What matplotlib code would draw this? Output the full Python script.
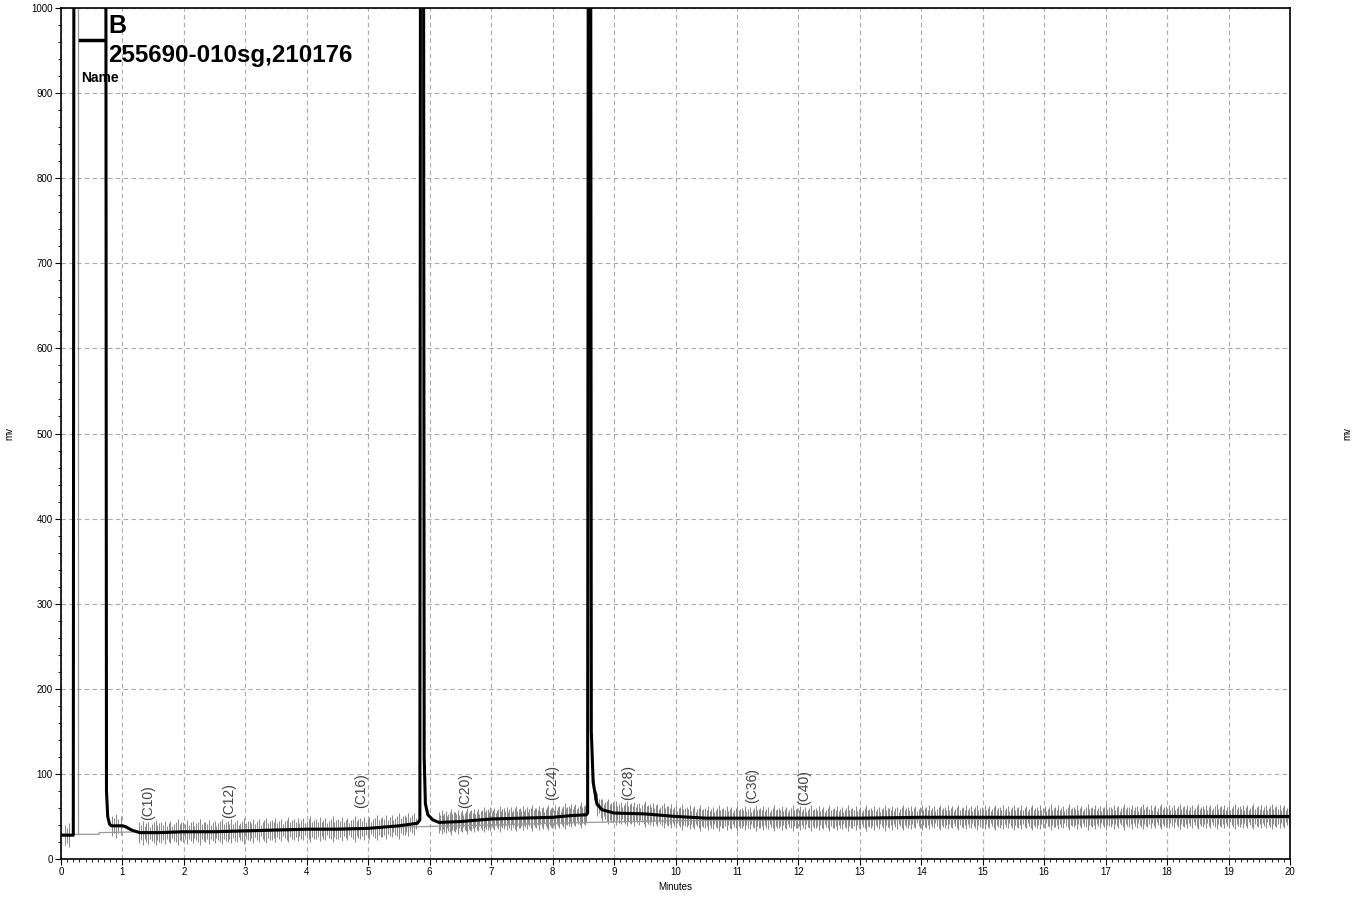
import matplotlib
matplotlib.use('Agg')
import matplotlib.pyplot as plt
import numpy as np
from matplotlib.ticker import MultipleLocator

plt.rcParams['font.family'] = ['Liberation Sans', 'DejaVu Sans']

# chromatogram trace (minutes, mV), values above 1000 are off scale
trace_t = [0, 0.2, 0.21, 0.73, 0.74, 0.76, 0.79, 0.82, 1.0, 1.05, 1.15, 1.28, 1.6, 2.0,
           2.5, 3.0, 3.5, 4.0, 4.5, 5.0, 5.5, 5.8, 5.84, 5.85, 5.9, 5.91, 5.93, 5.97,
           6.05, 6.15, 6.5, 7.0, 7.5, 8.0, 8.3, 8.55, 8.57, 8.58, 8.62, 8.63, 8.66,
           8.72, 8.8, 9.0, 9.5, 10.0, 10.5, 11.0, 12.0, 13.0, 14.0, 16.0, 18.0, 20.0]
trace_mv = [28, 28, 1100, 1100, 80, 50, 41, 39, 39, 38, 34, 31, 31, 32,
            32, 33, 34, 35, 35, 36, 39, 42, 46, 1100, 1100, 120, 65, 52,
            46, 43, 44, 47, 48, 49, 51, 52, 54, 1100, 1100, 150, 90,
            65, 58, 54, 53, 50, 48, 48, 48, 48, 49, 49, 50, 50]

# thin grey baseline and second channel
base_t = [0, 0.62, 0.62, 5.85, 8.6, 10.0, 20.0]
base_mv = [29, 29, 31, 38, 43, 45, 48]
aux_t = [0.27, 0.27]
aux_mv = [29, 1100]

# carbon range labels
peak_names = ['(C10)', '(C12)', '(C16)', '(C20)', '(C24)', '(C28)', '(C36)', '(C40)']
peak_t = [1.42, 2.73, 4.88, 6.57, 8.0, 9.23, 11.25, 12.09]
peak_lbl_mv = [46, 48, 60, 60, 69, 69, 66, 63]

# integration hash marks: (start, end, step)
hash_segs = [(0.07, 0.14, 0.03), (0.83, 1.0, 0.035), (1.27, 5.8, 0.03),
             (6.15, 8.55, 0.022), (8.68, 20.0, 0.025)]
hash_half = [12, 9, 14, 8, 11, 13, 7, 10, 12, 15, 9, 11]

fig = plt.figure(figsize=(13.6, 8.98), dpi=100)
ax = fig.add_axes([61 / 1360, 1 - 859 / 898, (1290 - 61) / 1360, (859 - 8) / 898])

ax.grid(True, which='major', color='#aaaaaa', linestyle=(0, (4, 3)), linewidth=0.8)
ax.set_axisbelow(True)

# hash marks
for s, e, st in hash_segs:
    xs = np.arange(s, e, st)
    cy = np.interp(xs, trace_t, trace_mv)
    hh = np.array([hash_half[i % len(hash_half)] for i in range(len(xs))])
    ax.vlines(xs, cy - hh, cy + hh, color='#8c8c8c', linewidth=0.75, zorder=2)

ax.plot(base_t, base_mv, color='#999999', linewidth=0.9, zorder=2)
ax.plot(aux_t, aux_mv, color='#999999', linewidth=0.9, zorder=2)
ax.plot(trace_t, trace_mv, color='black', linewidth=2.2, zorder=3)

for name, t, y in zip(peak_names, peak_t, peak_lbl_mv):
    ax.text(t, y, name, rotation=90, ha='center', va='bottom', fontsize=10,
            color='#444444', zorder=4)

ax.set_xlim(0, 20)
ax.set_ylim(0, 1000)
ax.xaxis.set_major_locator(MultipleLocator(1))
ax.xaxis.set_minor_locator(MultipleLocator(0.1))
ax.yaxis.set_major_locator(MultipleLocator(100))
ax.yaxis.set_minor_locator(MultipleLocator(20))
ax.tick_params(which='major', length=4, width=0.8, labelsize=7, pad=2)
ax.tick_params(which='minor', length=2.5, width=0.6)
ax.tick_params(axis='y', which='both', left=True, right=True, labelleft=True, labelright=True)
for sp in ax.spines.values():
    sp.set_linewidth(1.2)

ax.set_xlabel('Minutes', fontsize=7, labelpad=3)
ax.set_ylabel('mv', fontsize=7, labelpad=12)
ax2 = ax.twinx()
ax2.set_ylim(0, 1000)
ax2.set_yticks([])
ax2.set_ylabel('mv', fontsize=7, labelpad=38)
for sp in ax2.spines.values():
    sp.set_visible(False)

# legend block
fig.lines.append(plt.Line2D([80 / 1360, 103 / 1360], [1 - 40 / 898, 1 - 40 / 898],
                            color='black', linewidth=2.5, transform=fig.transFigure))
fig.text(108 / 1360, 1 - 33 / 898, 'B', fontsize=18, fontweight='bold', va='baseline')
fig.text(108 / 1360, 1 - 62 / 898, '255690-010sg,210176', fontsize=17.4, fontweight='bold',
         va='baseline')
fig.text(81 / 1360, 1 - 82 / 898, 'Name', fontsize=10, fontweight='bold', va='baseline')

fig.savefig('out.png', dpi=100)
